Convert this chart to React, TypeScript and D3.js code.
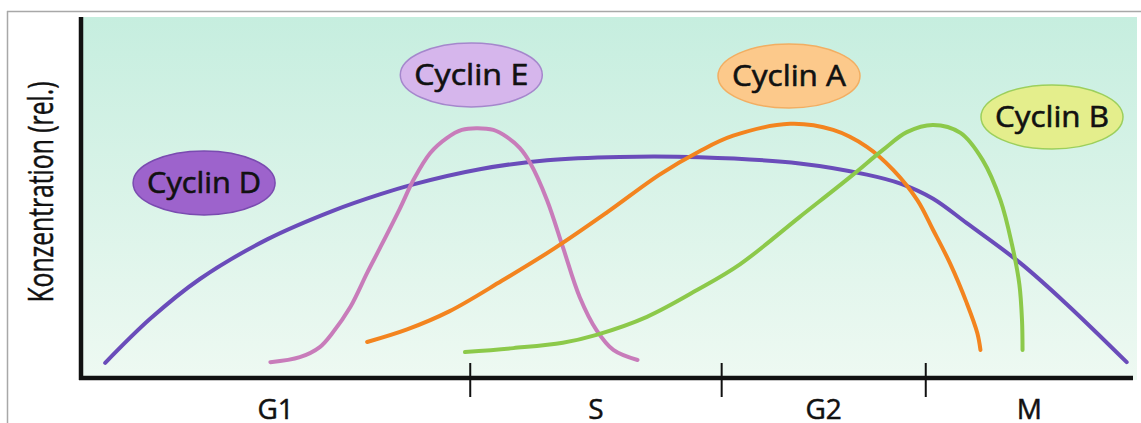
import React from "react";
import * as d3 from "d3";

const W = 1141;
const H = 423;

// Relative concentration curves: [time (0-100), concentration (0-100)]
const cyclinD: [number, number][] = [
  [2.3, 4.2], [6.6, 16.5], [11.3, 27.5], [17.7, 38.5], [24.0, 46.5], [28.4, 51.0],
  [31.6, 53.8], [37.9, 58.0], [44.3, 60.5], [51.2, 61.4], [58.8, 61.3], [68.3, 59.6],
  [74.7, 56.5], [77.9, 54.0], [81.0, 49.8], [84.2, 43.0], [89.3, 31.9], [93.7, 20.5], [99.4, 4.4],
];
const cyclinE: [number, number][] = [
  [18.0, 4.4], [20.8, 5.8], [22.7, 8.6], [23.9, 12.5], [25.6, 19.7], [27.2, 29.2],
  [28.4, 36.0], [30.3, 47.0], [31.6, 55.0], [33.2, 62.5], [34.8, 66.7], [36.2, 68.9],
  [37.6, 69.4], [39.2, 68.9], [40.5, 66.9], [41.7, 63.9], [42.7, 59.7], [44.3, 49.4],
  [45.8, 36.4], [47.4, 22.5], [49.0, 13.3], [50.6, 7.8], [52.9, 5.0],
];
const cyclinA: [number, number][] = [
  [27.2, 10.0], [31.0, 13.5], [35.0, 18.5], [40.0, 27.0], [45.0, 36.0], [50.0, 46.0],
  [55.0, 56.5], [58.8, 63.0], [62.0, 67.3], [67.4, 70.6], [71.5, 68.9], [74.7, 64.2],
  [77.2, 57.8], [79.5, 49.4], [81.0, 41.1], [82.6, 31.9], [84.2, 20.8], [85.2, 12.5], [85.5, 7.8],
];
const cyclinB: [number, number][] = [
  [36.5, 7.2], [41.1, 8.3], [45.8, 9.8], [49.0, 12.0], [53.8, 17.0], [58.6, 24.5],
  [62.6, 31.5], [68.3, 44.7], [73.1, 55.8], [76.2, 63.3], [78.5, 68.3], [81.0, 70.3],
  [83.6, 68.1], [85.7, 60.6], [87.4, 49.4], [88.5, 37.0], [89.2, 26.0], [89.45, 16.0], [89.5, 7.8],
];

const phaseNames = ["G1", "S", "G2", "M"];
const phaseBounds = [0, 37.0, 60.9, 80.3, 100];

const seriesNames = ["Cyclin D", "Cyclin E", "Cyclin A", "Cyclin B"];
const seriesData = [cyclinD, cyclinE, cyclinA, cyclinB];
const labelAnchors: [number, number][] = [
  [11.7, 54.2], [37.1, 84.2], [67.3, 83.9], [92.3, 72.5],
];

const lineColors = ["#6a4cba", "#c87cba", "#f3841f", "#8cc94a"];
const fillColors = ["#9d63cc", "#d6b6ec", "#fcc98b", "#e4ee8c"];
const strokeColors = ["#7a4bb0", "#a587cc", "#f2ae62", "#9ccf5c"];

export default function App() {
  const x = d3.scaleLinear().domain([0, 100]).range([81, 1133]);
  const y = d3.scaleLinear().domain([0, 100]).range([378, 18]);
  const line = d3
    .line<[number, number]>()
    .x((d) => x(d[0]))
    .y((d) => y(d[1]))
    .curve(d3.curveCatmullRom.alpha(0.5));

  const font = "'Open Sans', 'Noto Sans', sans-serif";

  return (
    <svg width={W} height={H} style={{ display: "block" }}>
      <style>{`body{margin:0}`}</style>
      <defs>
        <linearGradient id="bg" x1="0" y1="0" x2="0" y2="1">
          <stop offset="0" stopColor="#c6eedf" />
          <stop offset="1" stopColor="#eef9f2" />
        </linearGradient>
      </defs>
      <rect x={0} y={0} width={W} height={H} fill="#ffffff" />
      <line x1={7} y1={11.5} x2={W} y2={11.5} stroke="#a8a8a8" strokeWidth={1.5} />
      <line x1={7.5} y1={11} x2={7.5} y2={H} stroke="#a8a8a8" strokeWidth={1.5} />
      <rect x={83} y={17} width={1137 - 83} height={380 - 17} fill="url(#bg)" />

      {seriesData.map((d, i) => (
        <path
          key={seriesNames[i]}
          d={line(d) || ""}
          fill="none"
          stroke={lineColors[i]}
          strokeWidth={4}
          strokeLinecap="round"
          strokeLinejoin="round"
        />
      ))}

      {/* axes */}
      <line x1={81} y1={17} x2={81} y2={380} stroke="#111" strokeWidth={4.5} />
      <line x1={79} y1={378} x2={x(100)} y2={378} stroke="#111" strokeWidth={4.5} />
      {phaseBounds.slice(1, -1).map((b) => (
        <line key={b} x1={x(b)} y1={363} x2={x(b)} y2={397} stroke="#111" strokeWidth={2} />
      ))}
      {phaseNames.map((p, i) => (
        <text
          key={p}
          x={x((phaseBounds[i] + phaseBounds[i + 1]) / 2)}
          y={419}
          textAnchor="middle"
          fontFamily={font}
          fontSize={28}
          fill="#111"
          stroke="#111"
          strokeWidth={0.5}
        >
          {p}
        </text>
      ))}

      <text
        transform="translate(53,192) rotate(-90)"
        textAnchor="middle"
        fontFamily={font}
        fontSize={34}
        textLength={221}
        lengthAdjust="spacingAndGlyphs"
        fill="#111"
        stroke="#111"
        strokeWidth={0.5}
      >
        Konzentration (rel.)
      </text>

      {seriesNames.map((n, i) => (
        <g key={n} transform={`translate(${x(labelAnchors[i][0])},${y(labelAnchors[i][1])})`}>
          <ellipse rx={71} ry={32} fill={fillColors[i]} stroke={strokeColors[i]} strokeWidth={1.5} />
          <text
            textAnchor="middle"
            dy={10}
            fontFamily={font}
            fontSize={29}
            textLength={114}
            lengthAdjust="spacingAndGlyphs"
            fill="#111"
            stroke="#111"
            strokeWidth={0.6}
          >
            {n}
          </text>
        </g>
      ))}
    </svg>
  );
}
